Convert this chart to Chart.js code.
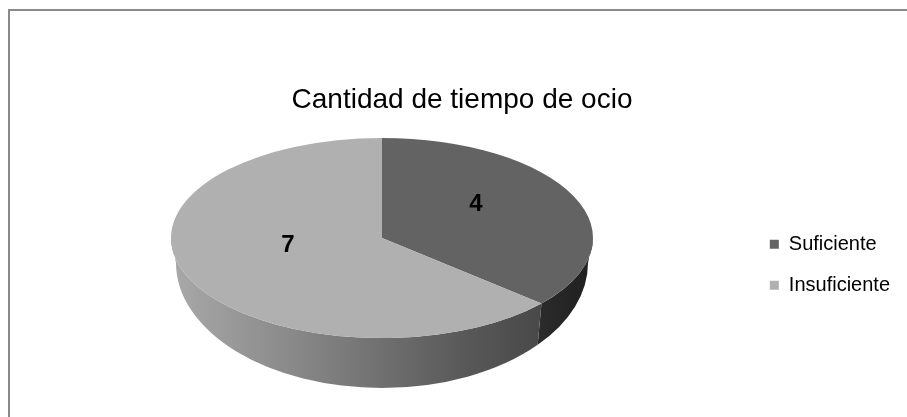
<!DOCTYPE html>
<html>
<head>
<meta charset="utf-8">
<script src="https://cdn.jsdelivr.net/npm/chart.js@4/dist/chart.umd.min.js"></script>
<style>
  html, body { margin: 0; padding: 0; background: #fff; overflow: hidden; }
  #wrap { position: relative; width: 907px; height: 417px; }
  #frame { position: absolute; left: 8px; top: 9px; right: -4px; bottom: -4px;
           border-top: 2px solid #8a8a8a; border-left: 2px solid #8a8a8a; }
  canvas { position: absolute; left: 0; top: 0; }
</style>
</head>
<body>
<div id="wrap">
  <div id="frame"></div>
  <canvas id="pie" width="907" height="417"></canvas>
</div>
<script>
const chartTitle = 'Cantidad de tiempo de ocio';
const categories = ['Suficiente', 'Insuficiente'];
const counts = [4, 7];

const topColors = ['#636363', '#b0b0b0'];
const FONT = '"Liberation Sans", Arial, sans-serif';

// where the tilted disc sits on the page
const tilt = { cx: 382, cy: 238, rx: 211, ry: 100, drop: 25, rxB: 206, ryB: 125 };

function sideFill(ctx, i) {
  if (i === 0) {
    const g = ctx.createLinearGradient(540, 0, 595, 0);
    g.addColorStop(0, '#2b2b2b');
    g.addColorStop(1, '#1f1f1f');
    return g;
  }
  const g = ctx.createLinearGradient(171, 0, 565, 0);
  g.addColorStop(0, '#a9a9a9');
  g.addColorStop(0.3, '#8a8a8a');
  g.addColorStop(0.75, '#585858');
  g.addColorStop(1, '#444444');
  return g;
}

const tiltPlugin = {
  id: 'tilt',
  beforeDatasetsDraw(chart) {
    const ctx = chart.ctx;
    const arcs = chart.getDatasetMeta(0).data;
    const t = tilt;
    ctx.save();
    // side wall, front half only
    arcs.forEach((arc, i) => {
      const ranges = [[0, Math.PI], [2 * Math.PI, 3 * Math.PI]];
      ranges.forEach(([lo, hi]) => {
        const s = Math.max(arc.startAngle, lo), e = Math.min(arc.endAngle, hi);
        if (e <= s) return;
        ctx.beginPath();
        ctx.ellipse(t.cx, t.cy, t.rx, t.ry, 0, s, e);
        ctx.lineTo(t.cx + t.rxB * Math.cos(e), t.cy + t.drop + t.ryB * Math.sin(e));
        ctx.ellipse(t.cx, t.cy + t.drop, t.rxB, t.ryB, 0, e, s, true);
        ctx.closePath();
        ctx.fillStyle = sideFill(ctx, i);
        ctx.fill();
      });
    });
    // squash the round pie into the top face
    const a0 = arcs[0];
    const R = a0.outerRadius;
    ctx.translate(t.cx, t.cy);
    ctx.scale(t.rx / R, t.ry / R);
    ctx.translate(-a0.x, -a0.y);
  },
  afterDatasetsDraw(chart) {
    const ctx = chart.ctx;
    ctx.restore();
    const arcs = chart.getDatasetMeta(0).data;
    const t = tilt;
    ctx.save();
    ctx.font = 'bold 24px ' + FONT;
    ctx.fillStyle = '#000';
    ctx.textAlign = 'center';
    ctx.textBaseline = 'middle';
    arcs.forEach((arc, i) => {
      const mid = (arc.startAngle + arc.endAngle) / 2;
      const x = t.cx + 0.49 * t.rx * Math.cos(mid);
      const y = t.cy + 0.49 * t.ry * Math.sin(mid) - 13;
      ctx.fillText(String(counts[i]), x, y);
    });
    ctx.restore();
  }
};

new Chart(document.getElementById('pie'), {
  type: 'pie',
  data: {
    labels: categories,
    datasets: [{ data: counts, backgroundColor: topColors, borderWidth: 0 }]
  },
  options: {
    responsive: false,
    animation: false,
    devicePixelRatio: 1,
    layout: { padding: { left: 24, top: 73, right: 7, bottom: 14 } },
    plugins: {
      title: {
        display: true, text: chartTitle, color: '#000',
        font: { family: FONT, size: 28, weight: 'normal' },
        padding: { top: 10, bottom: 10 }
      },
      legend: {
        position: 'right',
        fullSize: false,
        labels: { color: '#000', font: { family: FONT, size: 20 }, boxWidth: 9, boxHeight: 9, padding: 21 }
      },
      tooltip: { enabled: false }
    }
  },
  plugins: [tiltPlugin]
});
</script>
</body>
</html>
